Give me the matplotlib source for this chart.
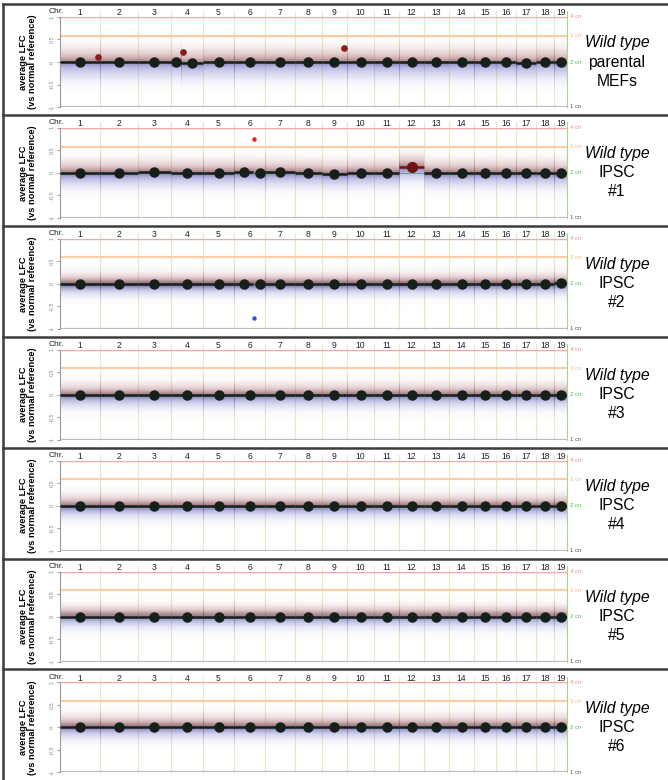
import numpy as np
import matplotlib.pyplot as plt
from matplotlib.lines import Line2D

plt.rcParams['font.family'] = ['Liberation Sans', 'DejaVu Sans']

# mouse chromosomes (Mb)
chrom_names = [str(i) for i in range(1, 20)]
chrom_len = [195.5, 182.1, 160.0, 156.5, 151.8, 149.7, 145.4, 129.4, 124.6, 130.7,
             122.1, 120.1, 120.4, 124.9, 104.0, 98.2, 95.3, 90.7, 61.4]

sample_lines = [("Wild type", "parental", "MEFs"),
                ("Wild type", "IPSC", "#1"),
                ("Wild type", "IPSC", "#2"),
                ("Wild type", "IPSC", "#3"),
                ("Wild type", "IPSC", "#4"),
                ("Wild type", "IPSC", "#5"),
                ("Wild type", "IPSC", "#6")]

# segment mean per chromosome (average LFC)
chrom_means = [
    [0.0, 0.0, 0.0, 0.0, 0.0, 0.0, 0.0, 0.0, 0.0, 0.0, -0.01, -0.01, -0.01, 0.0, -0.01, -0.01, -0.02, 0.01, -0.01],
    [0.0, 0.0, 0.01, 0.0, 0.0, 0.0, 0.01, 0.0, -0.02, 0.0, 0.0, 0.13, 0.0, 0.0, 0.0, 0.0, 0.0, 0.0, -0.01],
    [0.0, 0.0, 0.0, 0.0, 0.0, 0.0, 0.0, 0.0, 0.0, 0.0, 0.0, 0.0, 0.0, 0.0, 0.0, 0.0, 0.0, 0.0, 0.01],
    [0.0, 0.0, 0.0, 0.0, -0.01, 0.0, 0.0, 0.0, 0.0, 0.0, 0.0, 0.0, 0.0, 0.0, 0.0, 0.0, 0.0, 0.0, 0.0],
    [0.0, 0.0, 0.0, 0.0, 0.0, 0.0, 0.0, 0.0, 0.0, 0.0, 0.0, 0.0, 0.0, 0.0, 0.0, 0.0, 0.0, 0.0, 0.0],
    [0.0, 0.0, 0.0, 0.0, 0.0, 0.0, 0.0, 0.0, 0.0, 0.0, 0.0, 0.0, 0.0, 0.0, 0.0, 0.0, 0.0, 0.0, 0.0],
    [0.0, 0.0, 0.0, 0.0, 0.0, 0.0, 0.0, 0.0, 0.0, 0.0, 0.0, 0.0, 0.0, 0.0, 0.0, 0.0, 0.0, 0.0, 0.0],
]

# chromosomes split into several segments: (panel, chrom, [(start, end, value), ...])
split_segments = [
    (0, 4, [(0, 51, 0.0), (51, 156.5, -0.03)]),
    (1, 6, [(0, 92, 0.01), (100, 149.7, 0.0)]),
    (2, 6, [(0, 92, 0.0), (100, 149.7, 0.0)]),
]

# small focal calls: (panel, chrom, position Mb, value, color, error)
focal_calls = [
    (0, 1, 184.6, 0.11, '#8a1c1c', 0.0),
    (0, 4, 59.0, 0.22, '#8a1c1c', 0.0),
    (0, 9, 109.0, 0.31, '#8a1c1c', 0.0),
    (1, 6, 96.0, 0.75, '#e02424', 0.05),
    (2, 6, 96.0, -0.76, '#2a56d0', 0.03),
]

# spread of the probe cloud above / below the segment (LFC) and darkness of its core
cloud_up = [0.20, 0.18, 0.15, 0.16, 0.16, 0.15, 0.16]
cloud_dn = [0.23, 0.20, 0.16, 0.18, 0.17, 0.17, 0.17]
cloud_core = [0.35, 0.38, 0.55, 0.42, 0.45, 0.42, 0.45]

cn_levels = [4, 3, 2, 1]
cn_colors = ['#f08a8a', '#f6b98a', '#58b858', '#555555']
cn_line = ['#f4a6a6', '#f8cfaa', '#7cc47c', '#bcbcbc']

W, H = 668, 780
fig = plt.figure(figsize=(W / 100, H / 100), dpi=100)

starts = np.concatenate([[0], np.cumsum(chrom_len)[:-1]])
ends = np.cumsum(chrom_len)
total = ends[-1]
px = total / 507.0

yy = np.linspace(-1, 1, 500)
red = np.array([0.66, 0.38, 0.40])
blue = np.array([0.40, 0.40, 0.78])
dark = np.array([0.10, 0.10, 0.14])


def cloud(ax, x0, x1, c, up, dn, core):
    d = yy - c
    s = np.where(d > 0, up, dn)
    a_wide = 0.48 * np.exp(-0.5 * (d / s) ** 2)
    a_core = core * np.exp(-0.5 * (d / 0.06) ** 2)
    alpha = 1 - (1 - a_wide) * (1 - a_core)
    w = (a_wide / np.maximum(alpha, 1e-6))[:, None]
    base = np.where((d > 0)[:, None], red, blue)
    rgb = dark * (1 - w) + base * w
    img = np.concatenate([rgb, alpha[:, None]], axis=1)[:, None, :]
    ax.imshow(img, extent=[x0, x1, -1, 1], origin='lower', aspect='auto',
              interpolation='bilinear', zorder=1)


tops = [4 + 110.9 * i for i in range(7)]
for i, top in enumerate(tops):
    ax = fig.add_axes([60 / W, 1 - (top + 103) / H, 507 / W, 90 / H])

    # reference copy-number lines
    for cn, col, lc in zip(cn_levels, cn_colors, cn_line):
        lv = np.log2(cn / 2)
        lw = 0.8 if cn == 2 else (1.0 if cn == 4 else 1.6)
        ax.axhline(lv, color=lc, lw=lw, zorder=0.5)
        ax.text(total + 3 * px, lv, f"{cn} cn", fontsize=4.3, color=col,
                ha='left', va='center', clip_on=False)

    # chromosome borders and labels
    for k in range(19):
        col = '#a9d48a' if k == 18 else '#e3eac4'
        ax.plot([ends[k], ends[k]], [-1, 1.13], color=col, lw=0.8, zorder=0.4, clip_on=False)
        ax.text((starts[k] + ends[k]) / 2, 1.09, chrom_names[k], fontsize=6.2,
                color='#222222', ha='center', va='center', clip_on=False)
    ax.text(-4 * px, 1.115, "Chr.", fontsize=6.0, color='#222222',
            ha='center', va='center', clip_on=False)

    # segments
    segs = []
    for k in range(19):
        split = [s for s in split_segments if s[0] == i and s[1] == k + 1]
        if split:
            for a, b, v in split[0][2]:
                segs.append((starts[k] + a, starts[k] + b, v))
        else:
            segs.append((starts[k], ends[k], chrom_means[i][k]))

    # probe cloud follows the chromosome level (focal calls are tiny)
    for k in range(19):
        split = [s for s in split_segments if s[0] == i and s[1] == k + 1]
        if split:
            parts = split[0][2]
            for j, (a, b, v) in enumerate(parts):
                b2 = parts[j + 1][0] if j + 1 < len(parts) else b
                cloud(ax, starts[k] + a, starts[k] + b2, v, cloud_up[i], cloud_dn[i], cloud_core[i])
        else:
            cloud(ax, starts[k], ends[k], chrom_means[i][k], cloud_up[i], cloud_dn[i], cloud_core[i])

    for x0, x1, v in segs:
        gain = v > 0.08
        col = '#6e1414' if gain else '#16201a'
        ax.plot([x0, x1], [v, v], color=col, lw=1.8, zorder=3, solid_capstyle='butt')
        ax.plot((x0 + x1) / 2, v, 'o', ms=7 if gain else 6.5, color=col, zorder=4)

    for p, c, pos, v, col, err in focal_calls:
        if p != i:
            continue
        x = starts[c - 1] + pos
        if err > 0:
            ax.errorbar(x, v, yerr=err, fmt='o', ms=2.2, color=col, elinewidth=0.8,
                        capsize=0, zorder=5)
        else:
            ax.plot(x, v, 'o', ms=3.8, color=col, zorder=5)

    ax.set_xlim(0, total)
    ax.set_ylim(-1, 1)
    ax.set_xticks([])
    ax.set_yticks([1, 0.5, 0, -0.5, -1])
    ax.set_yticklabels(["1", "0.5", "0", "-0.5", "-1"], rotation=90, va='center')
    ax.tick_params(axis='y', length=2.5, width=0.6, colors='#8a8a8a', labelsize=4, pad=1.5)
    for sp in ['top', 'right', 'bottom']:
        ax.spines[sp].set_visible(False)
    ax.spines['left'].set_color('#9a9a9a')
    ax.spines['left'].set_linewidth(0.8)
    ax.patch.set_alpha(0)

    # labels
    fig.text(28 / W, 1 - (top + 58) / H, "average LFC\n(vs normal reference)", rotation=90,
             fontweight='bold', fontsize=6.7, ha='center', va='center', linespacing=1.1)
    l1, l2, l3 = sample_lines[i]
    fig.text(617 / W, 1 - (top + 39) / H, l1, style='italic', fontsize=11.3, ha='center', va='center')
    fig.text(617 / W, 1 - (top + 58) / H, l2, fontsize=11.3, ha='center', va='center')
    fig.text(617 / W, 1 - (top + 77) / H, l3, fontsize=11.3, ha='center', va='center')

    fig.add_artist(Line2D([3 / W, 1], [1 - top / H] * 2, transform=fig.transFigure,
                          color='#3c3c3c', lw=1.8))

fig.add_artist(Line2D([3 / W, 3 / W], [0, 1 - 4 / H], transform=fig.transFigure,
                      color='#3c3c3c', lw=1.8))

fig.savefig("out.png", dpi=100)
